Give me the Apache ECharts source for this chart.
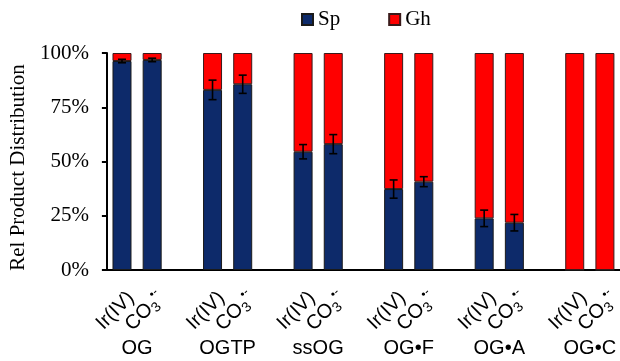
<!DOCTYPE html>
<html>
<head>
<meta charset="utf-8">
<script src="https://cdn.jsdelivr.net/npm/echarts@6/dist/echarts.min.js"></script>
<style>
html,body{margin:0;padding:0;background:#fff;}
#chart{width:620px;height:361px;}
</style>
</head>
<body>
<div id="chart"></div>
<script>
// ---- data ----
const groups = ['OG', 'OGTP', 'ssOG', 'OG•F', 'OG•A', 'OG•C'];
const oxidants = ['Ir(IV)', 'CO3'];
const spValues = [96.3, 96.8, 83.0, 85.6, 54.5, 58.0, 37.3, 40.7, 23.8, 21.8, 0, 0];
const ghValues = [3.7, 3.2, 17.0, 14.4, 45.5, 42.0, 62.7, 59.3, 76.2, 78.2, 100, 100];
const spErrors = [0.8, 0.8, 4.5, 4.2, 3.3, 4.4, 4.2, 2.3, 3.8, 3.8, null, null];
const yTicks = [0, 25, 50, 75, 100];
const seriesNames = ['Sp', 'Gh'];

// ---- build slots: two bars per group, blank slot between groups ----
const categories = [];
const slotOf = [];
groups.forEach((g, gi) => {
  oxidants.forEach((o) => {
    slotOf.push(categories.length);
    categories.push(g + '|' + o);
  });
  if (gi < groups.length - 1) categories.push('gap' + gi);
});
function toSlots(arr) {
  const out = categories.map(() => '-');
  arr.forEach((v, i) => { out[slotOf[i]] = v; });
  return out;
}
const errData = spErrors.map((e, i) => e == null ? null : [slotOf[i], spValues[i], e]).filter(d => d);

const NAVY = '#0D2A6A', RED = '#FF0000';
const chart = echarts.init(document.getElementById('chart'));
const slotW = 30.5;
const option = {
  animation: false,
  legend: {
    data: seriesNames,
    left: 296, top: 4,
    icon: 'rect', itemWidth: 11, itemHeight: 11, itemGap: 48,
    textStyle: { fontFamily: 'Liberation Serif', fontSize: 21, color: '#000' }
  },
  grid: { left: 106, top: 53, width: slotW * categories.length, height: 217 },
  xAxis: {
    type: 'category', data: categories,
    axisLine: { lineStyle: { color: '#000', width: 2 } },
    axisTick: { interval: 0, length: 5, lineStyle: { color: '#000', width: 2 } },
    axisLabel: { show: false }
  },
  yAxis: {
    type: 'value', min: 0, max: 100, interval: 25,
    name: 'Rel Product Distribution', nameLocation: 'middle', nameGap: 76,
    nameTextStyle: { fontFamily: 'Liberation Serif', fontSize: 21, color: '#000', padding: [0, 12, 0, 0] },
    axisLine: { show: true, lineStyle: { color: '#000', width: 2 } },
    axisTick: { show: true, length: 5, lineStyle: { color: '#000', width: 2 } },
    splitLine: { show: false },
    axisLabel: {
      margin: 18, fontFamily: 'Liberation Serif', fontSize: 21, color: '#000',
      padding: [8, 0, 0, 0],
      formatter: v => yTicks.includes(v) ? v + '%' : ''
    }
  },
  series: [
    {
      name: seriesNames[0], type: 'bar', stack: 'total', barWidth: 19,
      data: toSlots(spValues),
      itemStyle: { color: NAVY, borderColor: '#1a1a1a', borderWidth: 1 }
    },
    {
      name: seriesNames[1], type: 'bar', stack: 'total', barWidth: 19,
      data: toSlots(ghValues),
      itemStyle: { color: RED, borderColor: '#3a1a1a', borderWidth: 1 }
    },
    {
      name: 'err', type: 'custom', z: 10,
      data: errData,
      renderItem: (params, api) => {
        const x = api.value(0), v = api.value(1), e = api.value(2);
        const top = api.coord([x, v + e]);
        const bot = api.coord([x, v - e]);
        const cx = top[0], cap = 4;
        const style = { stroke: '#000', lineWidth: 1.6, fill: null };
        return {
          type: 'group',
          children: [
            { type: 'line', shape: { x1: cx, y1: top[1], x2: cx, y2: bot[1] }, style },
            { type: 'line', shape: { x1: cx - cap, y1: top[1], x2: cx + cap, y2: top[1] }, style },
            { type: 'line', shape: { x1: cx - cap, y1: bot[1], x2: cx + cap, y2: bot[1] }, style }
          ]
        };
      }
    }
  ]
};
chart.setOption(option);

// rotated bar labels and group labels, placed with the axis scale
const axisY = chart.convertToPixel({ yAxisIndex: 0 }, 0);
const graphics = [];
groups.forEach((g, gi) => {
  const xs = oxidants.map((o, oi) => chart.convertToPixel({ xAxisIndex: 0 }, slotOf[gi * 2 + oi]));
  oxidants.forEach((o, oi) => {
    const isCO3 = o === 'CO3';
    graphics.push({
      type: 'text', x: xs[oi] + 9, y: axisY + 25, rotation: Math.PI / 4,
      style: {
        text: isCO3 ? '{n|CO}{sub|3}{sup|•-}' : '{n|' + o + '}',
        align: 'right', verticalAlign: 'middle',
        rich: {
          n: { fontFamily: 'Liberation Sans', fontSize: 20, fill: '#000', lineHeight: 25 },
          sub: { fontFamily: 'Liberation Sans', fontSize: 14, fill: '#000', verticalAlign: 'bottom' },
          sup: { fontFamily: 'Liberation Sans', fontSize: 12, fill: '#000', verticalAlign: 'top' }
        }
      }
    });
  });
  graphics.push({
    type: 'text', x: (xs[0] + xs[1]) / 2, y: 348,
    style: { text: g, fontFamily: 'Liberation Sans', fontSize: 20, fill: '#000', align: 'center', verticalAlign: 'middle' }
  });
});
chart.setOption({ graphic: graphics });
</script>
</body>
</html>
